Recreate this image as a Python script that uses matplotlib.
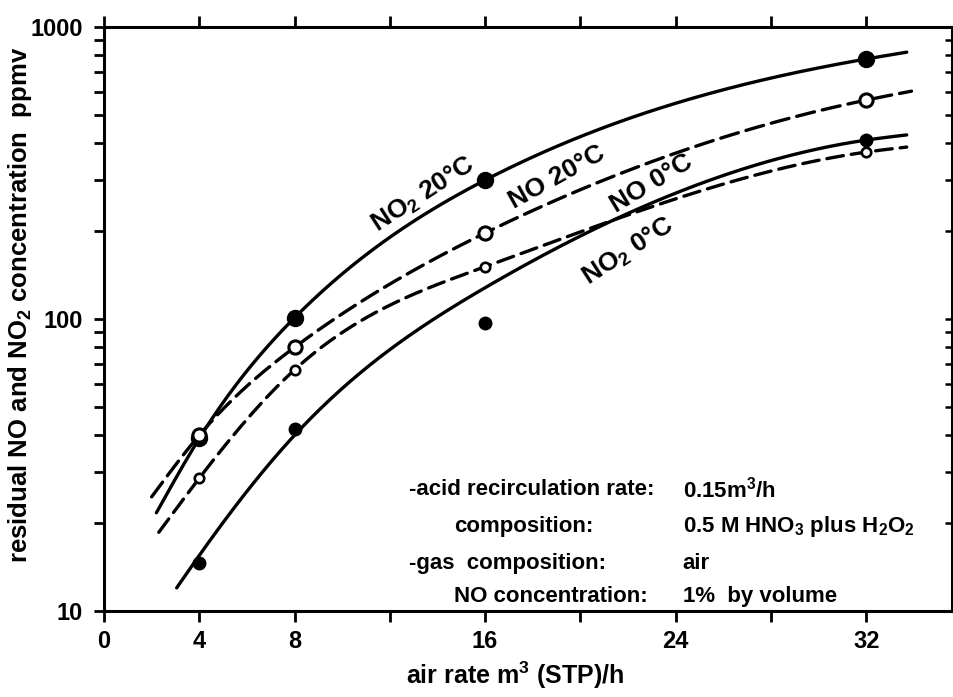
import numpy as np
import matplotlib
matplotlib.use("Agg")
import matplotlib.pyplot as plt
from matplotlib.ticker import FixedLocator, FixedFormatter, NullFormatter

FONT = "Liberation Sans"
plt.rcParams.update({
    "font.family": [FONT, "DejaVu Sans"],
    "font.weight": "bold",
    "mathtext.fontset": "custom",
    "mathtext.rm": f"{FONT}:bold",
    "mathtext.it": f"{FONT}:bold",
    "mathtext.bf": f"{FONT}:bold",
    "mathtext.default": "rm",
})

# measured residual concentrations (ppmv) at each air rate (m3/h)
air_rate = [4, 8, 16, 32]
no2_20 = [39, 101, 299, 777]
no_20 = [40, 80, 197, 562]
no_0 = [28.5, 67, 151, 373]
no2_0 = [14.6, 42, 97, 410]

# knots of the smoothed trend curves
no2_20_curve_x = [2.2, 4, 8, 16, 32, 33.7]
no2_20_curve_y = [21.7, 39, 101, 299, 777, 820]
no_20_curve_x = [2.0, 4, 8, 16, 32, 33.9]
no_20_curve_y = [24.6, 40, 80, 197, 562, 603]
no_0_curve_x = [2.3, 4, 8, 16, 32, 33.7]
no_0_curve_y = [18.6, 28.5, 67, 151, 373, 388]
no2_0_curve_x = [3.05, 4, 8, 16, 32, 33.7]
no2_0_curve_y = [12, 15.5, 40, 128, 410, 427]

x_ticks = [0, 4, 8, 12, 16, 20, 24, 28, 32]
x_tick_labels = ["0", "4", "8", "", "16", "", "24", "", "32"]
y_ticks = [10, 100, 1000]
y_tick_labels = ["10", "100", "1000"]


def smooth(xk, yk, n=300):
    """Natural cubic spline through the knots, evaluated in log space."""
    xk = np.asarray(xk, float)
    lk = np.log10(np.asarray(yk, float))
    m = len(xk)
    h = np.diff(xk)
    A = np.zeros((m, m))
    r = np.zeros(m)
    A[0, 0] = A[-1, -1] = 1.0
    for i in range(1, m - 1):
        A[i, i - 1] = h[i - 1]
        A[i, i] = 2 * (h[i - 1] + h[i])
        A[i, i + 1] = h[i]
        r[i] = 3 * ((lk[i + 1] - lk[i]) / h[i] - (lk[i] - lk[i - 1]) / h[i - 1])
    c = np.linalg.solve(A, r)
    b = (lk[1:] - lk[:-1]) / h - h * (2 * c[:-1] + c[1:]) / 3
    d = (c[1:] - c[:-1]) / (3 * h)
    xs = np.linspace(xk[0], xk[-1], n)
    idx = np.clip(np.searchsorted(xk, xs) - 1, 0, m - 2)
    dx = xs - xk[idx]
    ys = lk[idx] + b[idx] * dx + c[idx] * dx ** 2 + d[idx] * dx ** 3
    return xs, 10 ** ys


W, H = 954, 697
fig = plt.figure(figsize=(W / 100, H / 100), dpi=100)
ax = fig.add_axes([104 / W, 1 - 611 / H, (952 - 104) / W, (611 - 27) / H])
ax.set_yscale("log")
ax.set_xlim(0, 35.6)
ax.set_ylim(10, 1000)

LW = 2.4
ink = "black"

# trend curves
xs, ys = smooth(no2_20_curve_x, no2_20_curve_y)
ax.plot(xs, ys, color=ink, lw=LW, solid_capstyle="round")
xs, ys = smooth(no2_0_curve_x, no2_0_curve_y)
ax.plot(xs, ys, color=ink, lw=LW, solid_capstyle="round")
xs, ys = smooth(no_20_curve_x, no_20_curve_y)
ax.plot(xs, ys, color=ink, lw=LW, dashes=(5.5, 2.4), dash_capstyle="round")
xs, ys = smooth(no_0_curve_x, no_0_curve_y)
ax.plot(xs, ys, color=ink, lw=LW, dashes=(5, 2.4), dash_capstyle="round")

# measured points
ax.plot(air_rate, no2_20, "o", ms=11.5, color=ink, zorder=5)
ax.plot(air_rate, no_20, "o", ms=9.5, mfc="white", mec=ink, mew=2.2, zorder=5)
ax.plot(air_rate, no_0, "o", ms=6.8, mfc="white", mec=ink, mew=1.9, zorder=6)
ax.plot(air_rate, no2_0, "o", ms=9, color=ink, zorder=5)

# curve labels
lab = dict(fontsize=19, fontweight="bold", ha="center", va="center",
           rotation_mode="anchor")
ax.text(13.4, 268, r"NO$_2$ 20°C", rotation=33, **lab)
ax.text(19.0, 306, "NO 20°C", rotation=29, **lab)
ax.text(23.0, 290, "NO 0°C", rotation=31, **lab)
ax.text(22.0, 170, r"NO$_2$ 0°C", rotation=33, **lab)

# operating conditions
cond = dict(fontsize=16, fontweight="bold", va="center")
rows = [
    (12.8, 26.0, "-acid recirculation rate:", r"0.15m$^3$/h"),
    (14.7, 19.4, "composition:", r"0.5 M HNO$_3$ plus H$_2$O$_2$"),
    (12.8, 14.6, "-gas  composition:", "air"),
    (14.7, 11.2, "NO concentration:", "1%  by volume"),
]
for x0, yv, left, right in rows:
    ax.text(x0, yv, left, **cond)
    ax.text(24.3, yv, right, **cond)

# axes frame and ticks
for s in ax.spines.values():
    s.set_linewidth(2.2)
ax.xaxis.set_major_locator(FixedLocator(x_ticks))
ax.xaxis.set_major_formatter(FixedFormatter(x_tick_labels))
ax.yaxis.set_major_locator(FixedLocator(y_ticks))
ax.yaxis.set_major_formatter(FixedFormatter(y_tick_labels))
ax.yaxis.set_minor_formatter(NullFormatter())
ax.tick_params(axis="x", which="major", direction="out", length=8, width=2,
               top=True, labeltop=False, labelsize=17, pad=6)
ax.tick_params(axis="y", which="major", direction="out", length=7, width=2,
               labelsize=17, pad=8)
ax.tick_params(axis="y", which="minor", direction="out", length=7, width=2)

ax2 = ax.twinx()
ax2.set_yscale("log")
ax2.set_ylim(10, 1000)
ax2.yaxis.set_major_formatter(NullFormatter())
ax2.yaxis.set_minor_formatter(NullFormatter())
ax2.tick_params(axis="y", which="both", direction="in", length=5, width=1.8)
for s in ax2.spines.values():
    s.set_visible(False)

fig.text(515 / W, 1 - 675 / H, r"air rate m$^3$ (STP)/h", fontsize=18,
         fontweight="bold", ha="center", va="center")
fig.text(20 / W, 1 - 305 / H, r"residual NO and NO$_2$ concentration  ppmv",
         fontsize=18.5, fontweight="bold", ha="center", va="center", rotation=90)

fig.savefig("out.png", dpi=100)
